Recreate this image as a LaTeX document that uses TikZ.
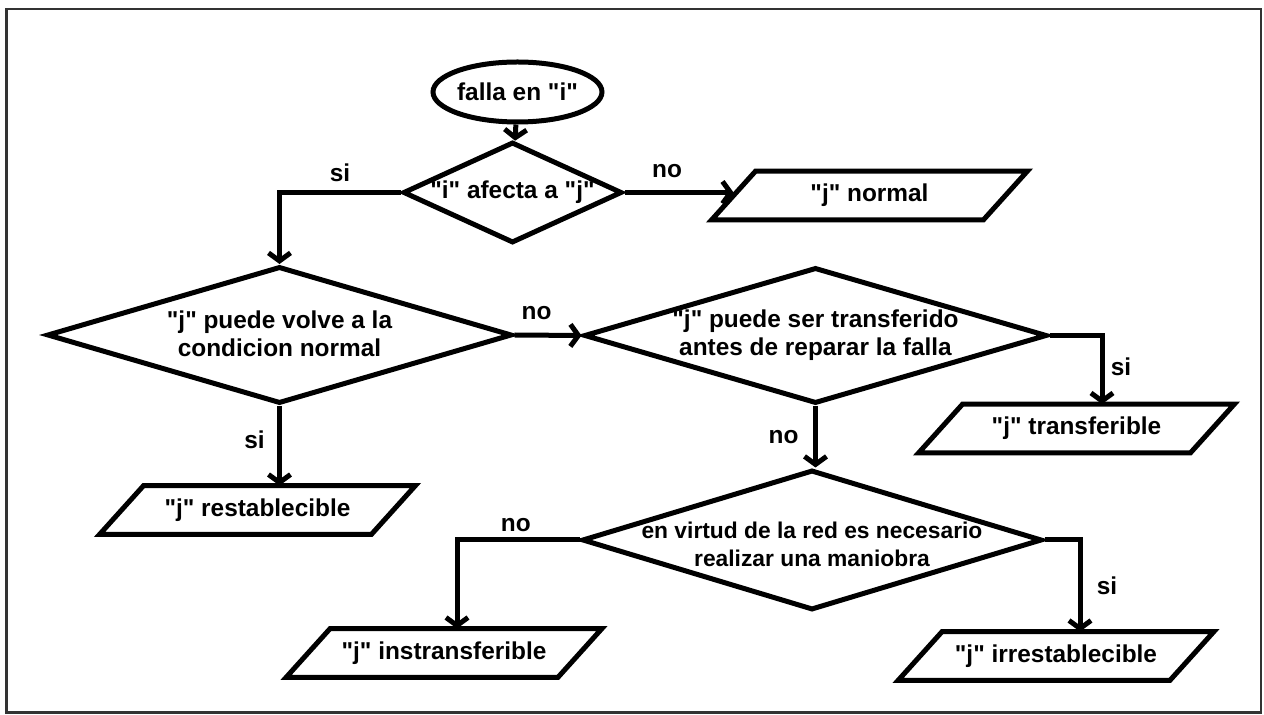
\documentclass[tikz,border=0pt]{standalone}
\usepackage{fontspec}
\setmainfont{Liberation Sans}[Ligatures=TeXOff]
\usetikzlibrary{shapes.geometric,arrows.meta}

\begin{document}
\begin{tikzpicture}[x=0.5pt,y=-0.5pt,
  every node/.style={font=\bfseries\fontsize{12.2}{14}\selectfont, text=black},
  ln/.style={line width=2.5pt, draw=black},
  flow/.style={ln, line join=miter, -{Straight Barb[length=4pt,width=11pt]}},
  startbox/.style={ellipse, draw, ln, fill=white, inner sep=0pt,
    minimum width=84.5pt, minimum height=30pt},
  decision/.style={diamond, draw, ln, fill=white, inner sep=0pt},
  % slanted input/output box drawn round an invisible rectangle
  iobox/.style={rectangle, inner sep=0pt, minimum width=135.5pt, minimum height=24pt,
    append after command={\pgfextra{\draw[ln, line join=miter]
      ([xshift=-11pt]\tikzlastnode.south west) -- ([xshift=11pt]\tikzlastnode.north west)
      -- ([xshift=11pt]\tikzlastnode.north east) -- ([xshift=-11pt]\tikzlastnode.south east)
      -- cycle;}}},
  lbl/.style={inner sep=0pt, anchor=center},
]
\useasboundingbox (0,0) rectangle (1264,715);
% outer frame
\draw[line width=1.2pt, black!80] (6.5,9) rectangle (1261,712.5);

% start
\node[startbox] (start) at (517.5,92) {\makebox[0pt]{falla en "i"}};

% decisions
\node[decision, minimum width=109.5pt, minimum height=50.5pt] (d1) at (512.5,192.5)
  {\makebox[0pt]{"i" afecta a "j"}};
\node[decision, minimum width=232.5pt, minimum height=68.5pt] (d2) at (279.5,335)
  {\makebox[0pt]{\begin{tabular}{@{}c@{}}\rule{0pt}{11.8pt}"j" puede volve a la\\condicion normal\end{tabular}}};
\node[decision, minimum width=231.5pt, minimum height=68pt] (d3) at (815.5,335.5)
  {\makebox[0pt]{\begin{tabular}{@{}c@{}}"j" puede ser transferido\\antes de reparar la falla\end{tabular}}};
\node[decision, minimum width=230pt, minimum height=70pt] (d4) at (812,540)
  {\makebox[0pt]{\fontsize{11.4}{14}\selectfont\begin{tabular}{@{}c@{}}\rule{0pt}{16.8pt}en virtud de la red es necesario\\realizar una maniobra\end{tabular}}};

% results
\node[iobox] (pnormal) at (869.5,195.5) {\makebox[0pt]{"j" normal}};
\node[iobox] (ptransf) at (1076.5,428.5) {\makebox[0pt]{"j" transferible}};
\node[iobox] (prestab) at (257.5,510) {\makebox[0pt]{"j" restablecible}};
\node[iobox] (pinstr) at (444,653) {\makebox[0pt]{"j" instransferible}};
\node[iobox] (pirrest) at (1056,656) {\makebox[0pt]{"j" irrestablecible}};

% bend points
\coordinate (k3) at (1102,335.5);
\coordinate (k4) at (457,540);
\coordinate (k5) at (1080,540);

% connectors
\draw[flow] (start) -- (d1);
\draw[flow] (d1.west) -- node[lbl, pos=0.5, yshift=10pt] {si} (d1.west -| d2.north) -- (d2.north);
\draw[flow] (d1.east) -- node[lbl, pos=0.39, yshift=10.5pt] {no} (d1.east -| pnormal.west);
\draw[flow] (d2.east) -- node[lbl, pos=0.33, yshift=11pt] {no} (d3.west);
\draw[flow] (d2.south) -- node[lbl, pos=0.42, xshift=-12.5pt] {si} (d2.south |- prestab.north);
\draw[flow] (d3.east) -- (k3) -- node[lbl, pos=0.46, xshift=9.5pt] {si} (k3 |- ptransf.north);
\draw[flow] (d3.south) -- node[lbl, pos=0.5, xshift=-16pt] {no} (d3.south |- d4.north);
\draw[flow] (d4.west) -- node[lbl, pos=0.52, yshift=7.5pt] {no} (k4) -- (k4 |- pinstr.north);
\draw[flow] (d4.east) -- (k5) -- node[lbl, pos=0.5, xshift=13.5pt] {si} (k5 |- pirrest.north);
\end{tikzpicture}
\end{document}
